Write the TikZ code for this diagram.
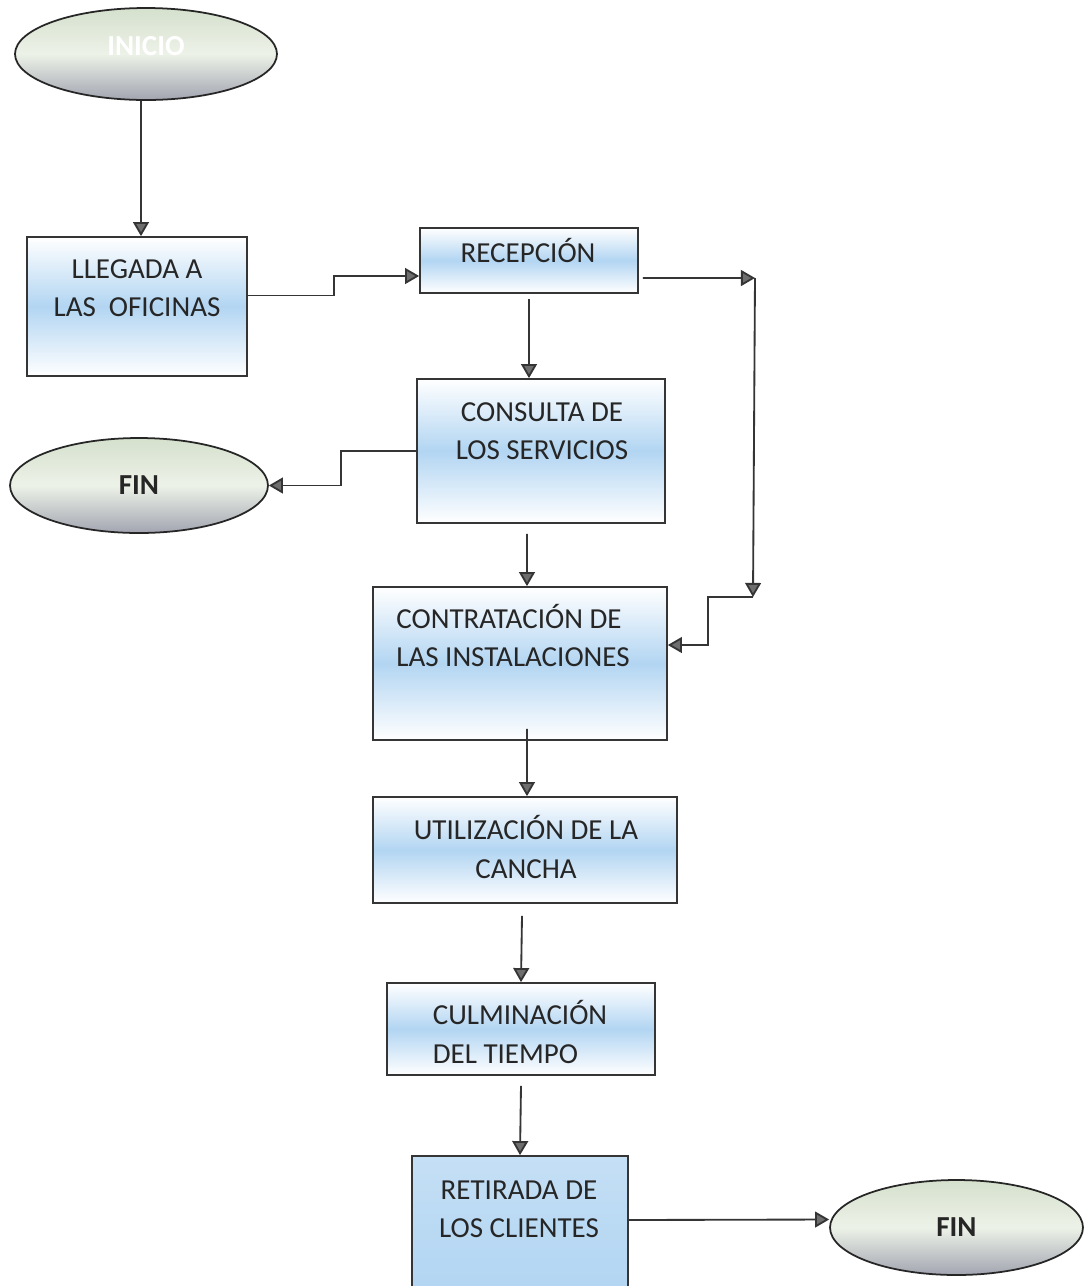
\documentclass[tikz,border=0pt]{standalone}
\usepackage{fontspec}
\setmainfont{Carlito}
\usepackage{tikz}
\usetikzlibrary{positioning, arrows.meta, shapes.geometric}

\begin{document}
\begin{tikzpicture}[
    x=0.02cm, y=-0.02cm,
    procbox/.style={rectangle, draw=linegray, line width=1pt,
        top color=white, bottom color=white, middle color=boxblue},
    termnode/.style={ellipse, draw=black!85, line width=1pt, inner sep=0pt,
        top color=endtop, bottom color=endbot, middle color=endmid,
        font=\bfseries\fontsize{16.5}{20}\selectfont, text=textgray},
    boxtext/.style={align=center, font=\fontsize{16.5}{21.8}\selectfont, text=textgray},
    flow/.style={draw=linegray, line width=1.05pt,
        -{Triangle[length=8pt, width=9pt, fill=tipgray]}},
]

% ── Colors ──
\definecolor{boxblue}{HTML}{B2D5F2}
\definecolor{endtop}{HTML}{D5E0CD}
\definecolor{endmid}{HTML}{EDF2E8}
\definecolor{endbot}{HTML}{A2A5B0}
\definecolor{linegray}{HTML}{353535}
\definecolor{tipgray}{HTML}{6E6E6E}
\definecolor{textgray}{HTML}{262626}

\useasboundingbox (0,0) rectangle (1088,1286);
\fill[white] (0,0) rectangle (1088,1286);
\clip (0,0) rectangle (1088,1286);

% ══════════════════════════════════════════════
% Start and left column
% ══════════════════════════════════════════════
\node[termnode, minimum width=5.24cm, minimum height=1.84cm] (inicio) at (146,54) {};
\node[font=\bfseries\fontsize{16.5}{20}\selectfont, text=white] (iniciotxt) at (146,46) {INICIO};

\node[procbox, minimum width=4.4cm, minimum height=2.78cm] (llegada) at (137,306.5) {};
\node[boxtext] (llegadatxt) at (137,288) {LLEGADA A\\LAS\ \ OFICINAS};

\node[termnode, minimum width=5.16cm, minimum height=1.9cm] (fin1) at (139,485.5) {FIN};

% ══════════════════════════════════════════════
% Centre column
% ══════════════════════════════════════════════
\node[procbox, minimum width=4.36cm, minimum height=1.3cm] (recepcion) at (529,260.5) {};
\node[boxtext] (recepciontxt) at (528,250) {RECEPCIÓN};

\node[procbox, minimum width=4.96cm, minimum height=2.88cm] (consulta) at (541,451) {};
\node[boxtext] (consultatxt) at (542,431.5) {CONSULTA DE\\LOS SERVICIOS};

\node[procbox, minimum width=5.88cm, minimum height=3.06cm] (contratacion) at (520,663.5) {};
\node[boxtext, align=left] (contrataciontxt) at (513,635.5) {CONTRATACIÓN DE\\LAS INSTALACIONES};

\node[procbox, minimum width=6.08cm, minimum height=2.12cm] (utilizacion) at (525,850) {};
\node[boxtext] (utilizaciontxt) at (526,847) {UTILIZACIÓN DE LA\\CANCHA};

\node[procbox, minimum width=5.36cm, minimum height=1.84cm] (culminacion) at (521,1029) {};
\node[boxtext, align=left] (culminaciontxt) at (520,1032) {CULMINACIÓN\\DEL TIEMPO};

\node[procbox, top color=boxblue!75, bottom color=boxblue, middle color=boxblue!90,
    minimum width=4.32cm, minimum height=2.88cm] (retirada) at (520,1228) {};
\node[boxtext] (retiradatxt) at (519,1209) {RETIRADA DE\\LOS CLIENTES};

\node[termnode, minimum width=5.06cm, minimum height=1.9cm] (fin2) at (956.5,1227.5) {FIN};

% bypass corners on the right
\coordinate (rtop) at (755,278);
\coordinate (rbot) at (753,597);

% ══════════════════════════════════════════════
% Connectors
% ══════════════════════════════════════════════
\draw[flow] ([xshift=-0.1cm]inicio.south) -- ([xshift=0.08cm]llegada.north);
\draw[flow] ([yshift=0.22cm]llegada.east) -- ++(86,0) |- ([yshift=-0.31cm]recepcion.west);
\draw[flow] ([yshift=-0.1cm]recepcion.south) -- (recepcion.south |- consulta.north);
\draw[flow] (consulta.west) -- ++(-75,0) |- (fin1.east);
\draw[flow] ([xshift=0.08cm, yshift=-0.35cm]recepcion.east) -- (rtop);
\draw[flow] (rtop) -- (rbot);
\draw[flow] (rbot) -- ++(-45,0) |- ([yshift=0.37cm]contratacion.east);
\draw[flow] ([xshift=-0.28cm, yshift=-0.2cm]consulta.south) -- ([xshift=0.14cm]contratacion.north);
\draw[flow] ([xshift=0.14cm, yshift=0.24cm]contratacion.south) -- ([xshift=0.04cm]utilizacion.north);
\draw[flow] ([xshift=-0.06cm, yshift=-0.24cm]utilizacion.south) -- (culminacion.north);
\draw[flow] ([yshift=-0.2cm]culminacion.south) -- (retirada.north);
\draw[flow] ([yshift=0.16cm]retirada.east) -- ([yshift=0.16cm]fin2.west);

\end{tikzpicture}
\end{document}
